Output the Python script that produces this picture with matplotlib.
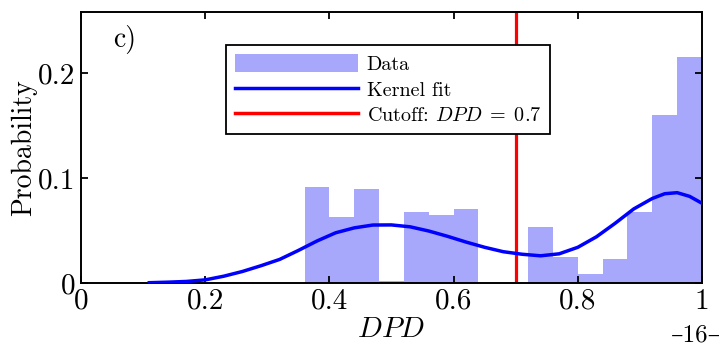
import matplotlib
matplotlib.use("Agg")
import matplotlib.pyplot as plt
from matplotlib.patches import Patch
from matplotlib.lines import Line2D

# Histogram of DPD values (bin left edges, bin probabilities)
bin_edges = [0.36, 0.40, 0.44, 0.48, 0.52, 0.56, 0.60, 0.64,
             0.68, 0.72, 0.76, 0.80, 0.84, 0.88, 0.92, 0.96]
bin_width = 0.04
probabilities = [0.0917, 0.0626, 0.0895, 0.0022, 0.0673, 0.0648, 0.0702, 0.0,
                 0.0, 0.0533, 0.0245, 0.0089, 0.0226, 0.0673, 0.160, 0.215]

# Kernel density fit, sampled along DPD
kernel_x = [0.11, 0.14, 0.17, 0.20, 0.23, 0.26, 0.29, 0.32, 0.35, 0.38,
            0.41, 0.44, 0.47, 0.50, 0.53, 0.56, 0.59, 0.62, 0.65, 0.68,
            0.71, 0.74, 0.77, 0.80, 0.83, 0.86, 0.89, 0.92, 0.94, 0.96,
            0.98, 1.00]
kernel_y = [0.0003, 0.0008, 0.0015, 0.0030, 0.0065, 0.0110, 0.0165, 0.0225, 0.0310, 0.0400,
            0.0478, 0.0525, 0.0552, 0.0553, 0.0535, 0.0495, 0.0445, 0.0390, 0.0340, 0.0298,
            0.0274, 0.0259, 0.0278, 0.0340, 0.0440, 0.0568, 0.0705, 0.0805, 0.0850, 0.0860,
            0.0825, 0.0759]

cutoff = 0.7

x_ticks = [0, 0.2, 0.4, 0.6, 0.8, 1.0]
x_tick_labels = ["0", "0.2", "0.4", "0.6", "0.8", "1"]
y_ticks = [0, 0.1, 0.2]
y_tick_labels = ["0", "0.1", "0.2"]

plt.rcParams["font.family"] = ["cmr10", "DejaVu Serif"]
plt.rcParams["mathtext.fontset"] = "cm"
plt.rcParams["axes.unicode_minus"] = False

fig = plt.figure(figsize=(7.2, 3.47), dpi=100)
ax = fig.add_axes([0.1125, 0.1844, 0.8625, 0.781])

bar_color = "#a7a7fc"
ax.bar(bin_edges, probabilities, width=bin_width, align="edge",
       color=bar_color, edgecolor="none", zorder=1)
ax.plot(kernel_x, kernel_y, color="#0000ff", lw=2.5, zorder=3,
        solid_joinstyle="round")
ax.axvline(cutoff, color="#ff0000", lw=2.3, zorder=2)

ax.set_xlim(0, 1)
ax.set_ylim(0, 0.258)
ax.set_xticks(x_ticks)
ax.set_xticklabels(x_tick_labels)
ax.set_yticks(y_ticks)
ax.set_yticklabels(y_tick_labels)
ax.tick_params(direction="in", length=5, width=1.3, top=True, right=True,
               labelsize=21, pad=4)
for s in ax.spines.values():
    s.set_linewidth(1.4)

ax.set_xlabel("$DPD$", fontsize=21, labelpad=1)
ax.set_ylabel("Probability", fontsize=20, labelpad=1)

ax.text(0.051, 0.897, "c)", transform=ax.transAxes, fontsize=20,
        ha="left", va="center")

handles = [Patch(facecolor=bar_color, edgecolor="none"),
           Line2D([], [], color="#0000ff", lw=2.5),
           Line2D([], [], color="#ff0000", lw=2.5)]
labels = ["Data", "Kernel fit", r"Cutoff: $DPD\;=\;0.7$"]
leg = ax.legend(handles, labels, loc="upper left", bbox_to_anchor=(0.233, 0.878),
                borderaxespad=0, fontsize=14.5, fancybox=False, framealpha=1,
                edgecolor="black", handlelength=6.1, handleheight=1.0,
                labelspacing=0.28, borderpad=0.45, handletextpad=0.45)
leg.get_frame().set_linewidth(1.3)

fig.text(0.967, 0.032, "\u201316\u2013", fontsize=18, ha="center", va="center")

fig.savefig("out.png", dpi=100)
